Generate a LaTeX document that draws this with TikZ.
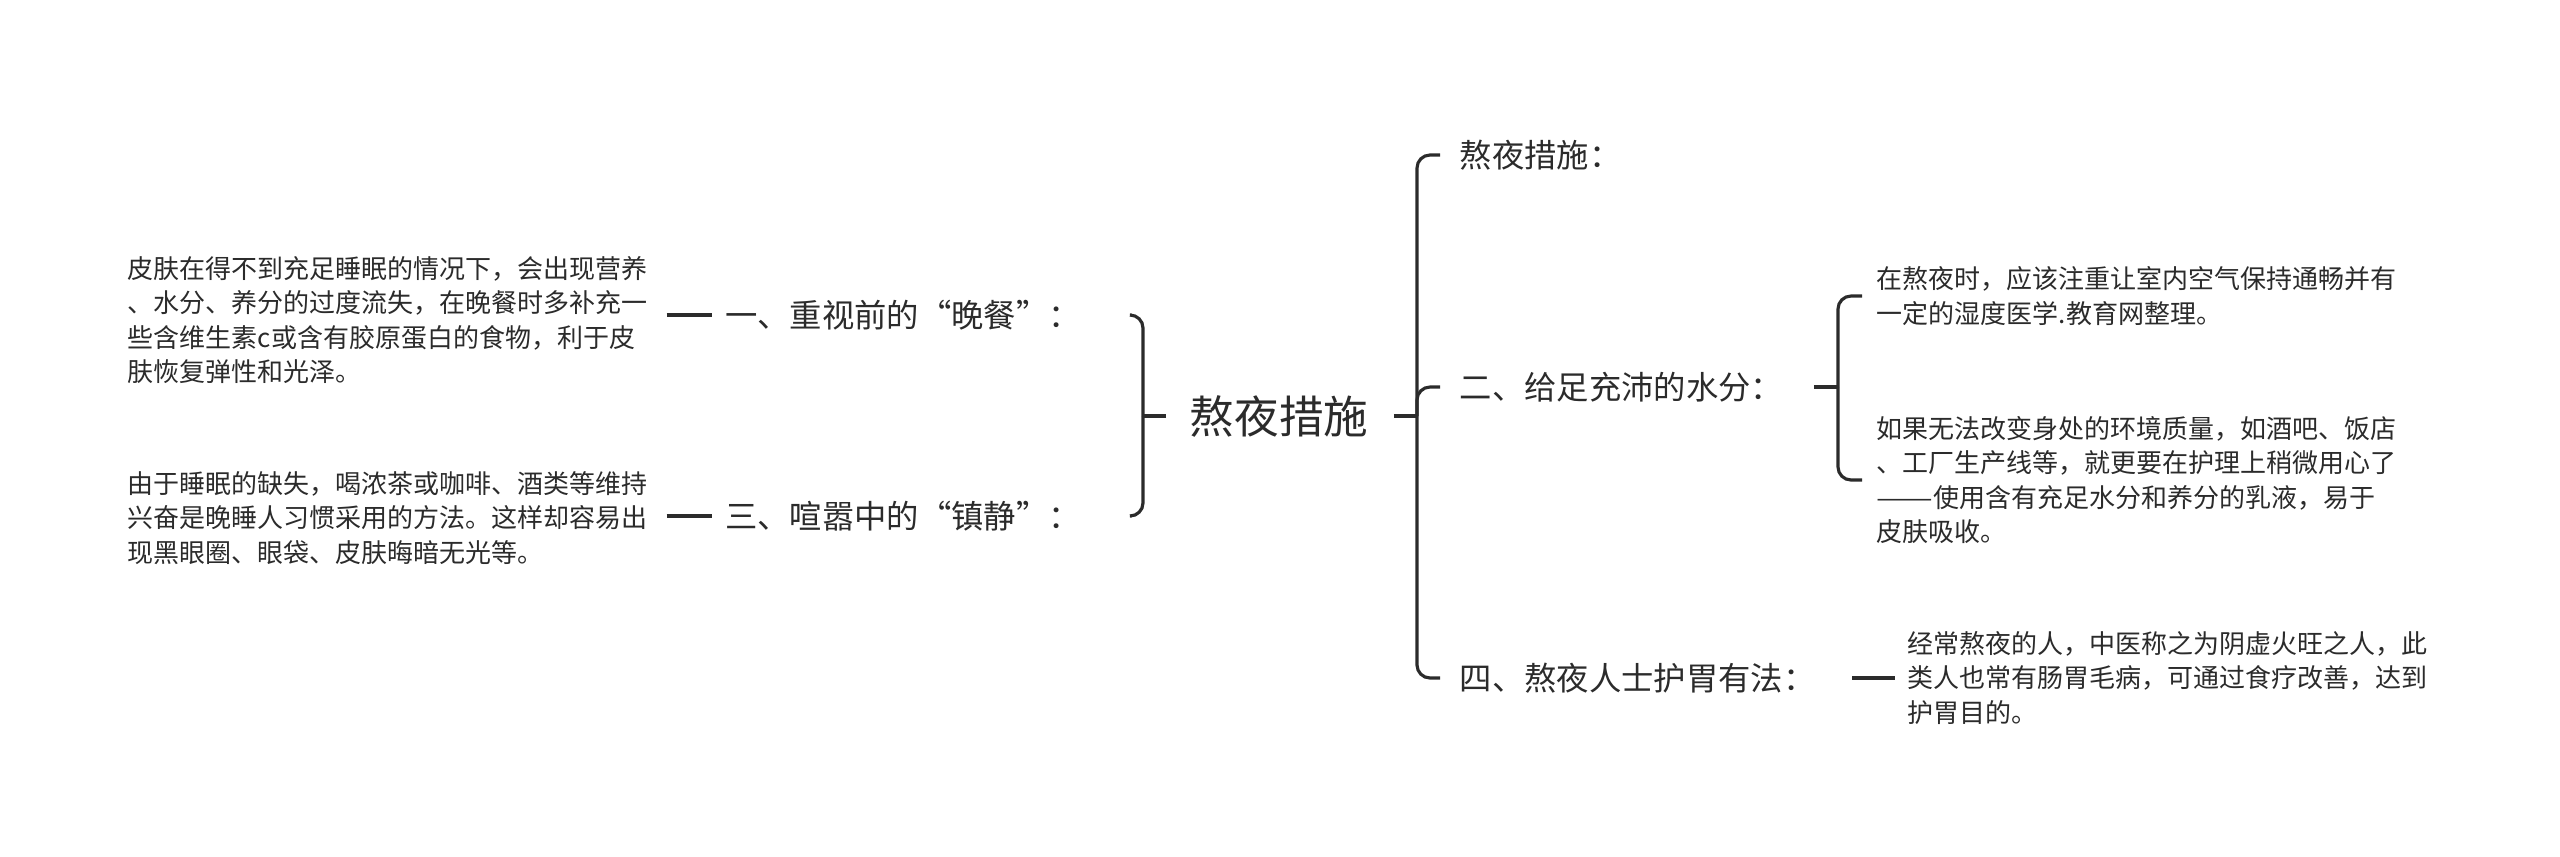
\documentclass[tikz,border=0pt]{standalone}
\usepackage{fontspec}
\usepackage{xcolor}
\usepackage{tikz}
\usetikzlibrary{positioning,calc}
\newfontfamily\cjk{Noto Sans CJK SC}
\definecolor{ink}{HTML}{2B2B2B}
\tikzset{
  rootnode/.style={inner sep=0pt,text=ink,font=\cjk\fontsize{12.7}{15}\selectfont},
  topic/.style   ={inner sep=0pt,text=ink,font=\cjk\fontsize{9.2}{11}\selectfont},
  leaf/.style    ={inner sep=0pt,text=ink,align=left,font=\cjk\fontsize{7.4}{9.8}\selectfont},
  branch/.style  ={draw=ink,line width=0.9pt,rounded corners=1.3mm}
}
\begin{document}
\begin{tikzpicture}[x=0.1mm,y=-0.1mm]
  \useasboundingbox (0,0) rectangle (2560,856);
  % centre
  \node[rootnode] (root) at (1279,416) {熬夜措施};
  \coordinate (lj) at (1143,416);
  \coordinate (rj) at (1417,416);
  \draw[branch] ([xshift=-2.3mm]root.west) -- (lj);
  \draw[branch] ([xshift=2.5mm]root.east) -- (rj);
  % left side
  \node[topic] (dinner) at (903,315) {一、重视前的“晚餐”：};
  \node[topic] (calm) at (903,516) {三、喧嚣中的“镇静”：};
  \node[leaf,anchor=west] (skin) at (127,320)
    {皮肤在得不到充足睡眠的情况下，会出现营养\\
     、水分、养分的过度流失，在晚餐时多补充一\\
     些含维生素c或含有胶原蛋白的食物，利于皮\\
     肤恢复弹性和光泽。};
  \node[leaf,anchor=west] (tea) at (127,518)
    {由于睡眠的缺失，喝浓茶或咖啡、酒类等维持\\
     兴奋是晚睡人习惯采用的方法。这样却容易出\\
     现黑眼圈、眼袋、皮肤晦暗无光等。};
  \draw[branch] (lj) |- ([xshift=5mm]dinner.east);
  \draw[branch] (lj) |- ([xshift=5mm]calm.east);
  \draw[branch] ($(skin.east |- dinner.west)+(18,0)$) -- ([xshift=-1.2mm]dinner.west);
  \draw[branch] ($(tea.east |- calm.west)+(18,0)$) -- ([xshift=-1.2mm]calm.west);
  % right side
  \node[topic,anchor=west] (title) at (1459,155) {熬夜措施：};
  \node[topic,anchor=west] (water) at (1459,387) {二、给足充沛的水分：};
  \node[topic,anchor=west] (stomach) at (1459,678) {四、熬夜人士护胃有法：};
  \draw[branch] (rj) |- ([xshift=-1.9mm]title.west);
  \draw[branch] (rj) |- ([xshift=-1.9mm]water.west);
  \draw[branch] (rj) |- ([xshift=-1.9mm]stomach.west);
  \coordinate (wj) at (1838,387);
  \node[leaf,anchor=west] (air) at (1876,296)
    {在熬夜时，应该注重让室内空气保持通畅并有\\
     一定的湿度医学.教育网整理。};
  \node[leaf,anchor=west] (lotion) at (1876,480)
    {如果无法改变身处的环境质量，如酒吧、饭店\\
     、工厂生产线等，就更要在护理上稍微用心了\\
     \scalebox{1.3}[1]{——}使用含有充足水分和养分的乳液，易于\\
     皮肤吸收。};
  \node[leaf,anchor=west] (diet) at (1907,678)
    {经常熬夜的人，中医称之为阴虚火旺之人，此\\
     类人也常有肠胃毛病，可通过食疗改善，达到\\
     护胃目的。};
  \draw[branch] ([xshift=3mm]water.east) -- (wj);
  \draw[branch] (wj) |- ([xshift=-1.4mm]air.west);
  \draw[branch] (wj) |- ([xshift=-1.4mm]lotion.west);
  \draw[branch] ($(stomach.east)+(36,0)$) -- ($(diet.west |- stomach.east)+(-12,0)$);
\end{tikzpicture}
\end{document}
